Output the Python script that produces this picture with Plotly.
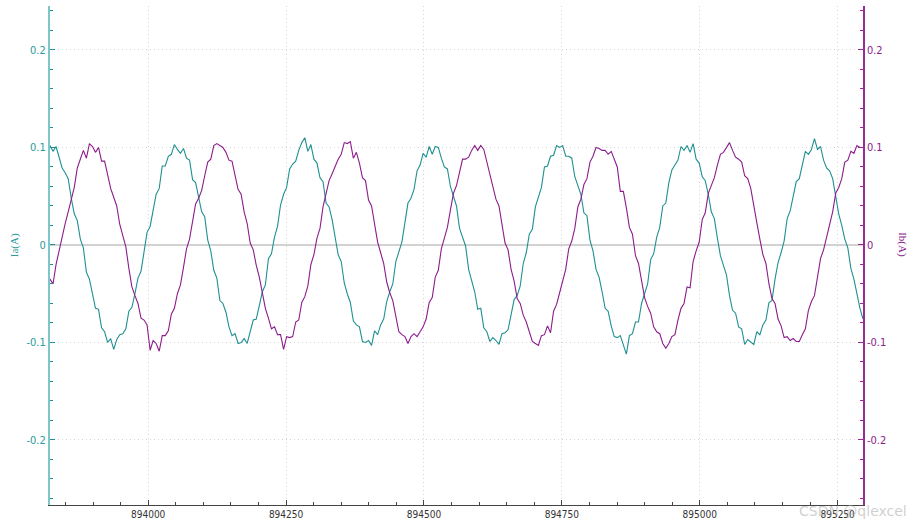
import plotly.graph_objects as go

# Sample grid (x axis position of each recorded sample)
X_START = 893822
X_STEP = 5.5

# Ia samples, in milliamps
ia_mA = [
    102, 96, 101, 90, 79, 74, 68, 48, 32, 25, 6, -3, -28, -35, -50, -65, -66, -85, -89, -100, -96,
    -107, -97, -92, -91, -86, -68, -64, -50, -34, -27, -6, 13, 19, 36, 52, 58, 81, 81, 91, 93, 103,
    98, 94, 99, 89, 87, 67, 64, 50, 34, 29, 5, -6, -26, -34, -57, -60, -69, -84, -93, -91, -101,
    -100, -96, -101, -89, -77, -76, -63, -48, -41, -14, -9, 8, 19, 41, 52, 59, 78, 83, 86, 97, 105,
    110, 96, 103, 88, 84, 69, 65, 43, 39, 26, 6, -10, -17, -39, -50, -59, -78, -82, -84, -99, -100,
    -98, -103, -88, -92, -82, -76, -58, -48, -40, -17, -7, 3, 23, 43, 48, 57, 76, 82, 94, 90, 101,
    93, 101, 100, 89, 80, 78, 60, 50, 40, 17, 8, -1, -25, -38, -48, -66, -65, -85, -89, -99, -95,
    -98, -102, -91, -90, -87, -72, -56, -52, -42, -19, -8, 11, 16, 39, 50, 59, 80, 81, 91, 92, 102,
    100, 102, 91, 91, 89, 70, 61, 52, 33, 30, 5, -6, -25, -33, -48, -65, -68, -83, -94, -95, -93,
    -102, -112, -93, -91, -79, -79, -60, -50, -40, -15, -9, 8, 18, 40, 43, 64, 77, 82, 87, 101, 97,
    102, 95, 104, 88, 84, 70, 66, 52, 34, 27, 7, -11, -21, -31, -52, -67, -70, -84, -86, -102, -97,
    -100, -102, -89, -92, -82, -77, -59, -57, -35, -18, -8, 4, 27, 35, 50, 65, 68, 84, 96, 93, 98,
    109, 98, 101, 87, 79, 76, 68, 51, 32, 20, 6, -3, -24, -35, -50, -65, -76,
]

# Ib samples, in milliamps
ib_mA = [
    -35, -40, -20, -6, 11, 22, 34, 48, 59, 79, 87, 97, 89, 104, 101, 95, 100, 86, 86, 73, 58,
    49, 40, 21, 8, -2, -24, -43, -52, -60, -75, -77, -82, -108, -98, -101, -109, -93, -93, -88, -71, -65,
    -50, -41, -23, -4, 6, 23, 42, 48, 56, 71, 85, 88, 102, 104, 102, 100, 95, 87, 86, 70, 57,
    52, 34, 22, 2, -5, -21, -33, -50, -65, -75, -86, -84, -92, -92, -107, -94, -95, -94, -79, -77, -59,
    -53, -42, -20, -10, 7, 17, 39, 51, 66, 73, 80, 88, 93, 105, 104, 106, 89, 95, 84, 69, 66,
    46, 40, 22, 3, -8, -19, -38, -49, -57, -75, -89, -92, -94, -101, -94, -91, -94, -89, -84, -76, -59,
    -54, -33, -26, -4, 7, 18, 36, 53, 61, 74, 88, 88, 90, 97, 102, 97, 102, 98, 85, 74, 61,
    47, 40, 19, 2, -5, -25, -37, -55, -60, -72, -79, -90, -99, -101, -103, -93, -92, -83, -90, -68, -61,
    -49, -38, -25, -4, 4, 17, 39, 47, 62, 68, 85, 91, 100, 99, 97, 97, 93, 96, 87, 80, 55,
    55, 38, 18, 11, -11, -19, -37, -54, -63, -70, -84, -89, -91, -101, -106, -101, -94, -92, -77, -65, -60,
    -43, -44, -17, -6, 3, 26, 33, 53, 62, 69, 82, 93, 95, 100, 105, 97, 90, 88, 85, 71, 68,
    58, 39, 23, 6, -10, -19, -40, -55, -60, -76, -83, -95, -94, -98, -96, -99, -99, -92, -86, -67, -58,
    -52, -31, -14, -5, 8, 21, 34, 53, 59, 68, 85, 87, 96, 94, 102, 100, 100,
]

x_tick_vals = [894000, 894250, 894500, 894750, 895000, 895250]
x_tick_text = ["894000", "894250", "894500", "894750", "895000", "895250"]
y_tick_vals = [-0.2, -0.1, 0, 0.1, 0.2]
y_tick_text = ["-0.2", "-0.1", "0", "0.1", "0.2"]
y_range = [-0.2667, 0.2451]

x = [X_START + X_STEP * i for i in range(len(ia_mA))]
ia = [v / 1000 for v in ia_mA]
ib = [v / 1000 for v in ib_mA]

TEAL = "#1f9090"
TEAL_AXIS = "#7fc6c6"
TEAL_TEXT = "#2a9a9a"
PURPLE = "#8c1c8c"
PURPLE_AXIS = "#9a2a9a"
GRID = "#d4d4d4"
GRID_DASH = "1px,3px"
TICK_FONT = "Liberation Sans Narrow, DejaVu Sans Condensed, Arial Narrow, sans-serif"

fig = go.Figure()
fig.add_trace(go.Scatter(x=x, y=ia, mode="lines", name="Ia",
                         line=dict(color=TEAL, width=1.1), yaxis="y"))
fig.add_trace(go.Scatter(x=x, y=ib, mode="lines", name="Ib",
                         line=dict(color=PURPLE, width=1.1), yaxis="y2"))

fig.update_layout(
    width=913, height=524,
    margin=dict(l=50, r=50, t=6, b=19, autoexpand=False),
    paper_bgcolor="white", plot_bgcolor="white",
    showlegend=False,
    font=dict(family=TICK_FONT, size=10),
    xaxis=dict(
        range=[x[0], x[-1]], automargin=False,
        tickmode="array", tickvals=x_tick_vals, ticktext=x_tick_text,
        ticks="inside", ticklen=5, tickcolor="#444", tickwidth=1,
        showline=True, linecolor="#444", linewidth=1,
        showgrid=True, gridcolor=GRID, griddash=GRID_DASH, gridwidth=1,
        zeroline=False,
        tickfont=dict(color="#333", size=10, family=TICK_FONT),
        minor=dict(tickmode="linear", tick0=894000, dtick=50, ticks="inside",
                   ticklen=3, tickcolor="#444", showgrid=False),
    ),
    yaxis=dict(
        range=y_range, automargin=False,
        tickmode="array", tickvals=y_tick_vals, ticktext=y_tick_text,
        ticks="inside", ticklen=5, tickcolor=TEAL, tickwidth=1,
        showline=True, linecolor=TEAL_AXIS, linewidth=2,
        showgrid=True, gridcolor=GRID, griddash=GRID_DASH, gridwidth=1,
        zeroline=True, zerolinecolor="#d2d2d2", zerolinewidth=1.5,
        tickfont=dict(color=TEAL_TEXT, size=11, family=TICK_FONT),
        minor=dict(tickmode="linear", tick0=0, dtick=0.02, ticks="inside",
                   ticklen=3, tickcolor=TEAL, showgrid=False),
    ),
    yaxis2=dict(
        range=y_range, overlaying="y", side="right", automargin=False,
        tickmode="array", tickvals=y_tick_vals, ticktext=y_tick_text,
        ticks="inside", ticklen=5, tickcolor=PURPLE_AXIS, tickwidth=1,
        showline=True, linecolor=PURPLE_AXIS, linewidth=1.5,
        showgrid=False, zeroline=False,
        tickfont=dict(color=PURPLE, size=11, family=TICK_FONT),
        minor=dict(tickmode="linear", tick0=0, dtick=0.02, ticks="inside",
                   ticklen=3, tickcolor=PURPLE_AXIS, showgrid=False),
    ),
    annotations=[
        dict(text="Ia(A)", xref="paper", yref="paper", x=-0.044, y=0.521,
             textangle=-90, showarrow=False, xanchor="center", yanchor="middle",
             font=dict(family="Liberation Serif, serif", size=11, color=TEAL_TEXT)),
        dict(text="Ib(A)", xref="paper", yref="paper", x=1.049, y=0.521,
             textangle=90, showarrow=False, xanchor="center", yanchor="middle",
             font=dict(family="Liberation Serif, serif", size=11, color=PURPLE)),
        dict(text="CSDN @qlexcel", xref="paper", yref="paper", x=1.057, y=-0.012,
             showarrow=False, xanchor="right", yanchor="middle",
             font=dict(family="DejaVu Sans, sans-serif", size=14, color="rgba(160,160,160,0.5)")),
    ],
)

fig.write_html("out.html",
               config={"displayModeBar": False},
               post_script="document.body.style.margin='0';document.body.style.overflow='hidden';")
